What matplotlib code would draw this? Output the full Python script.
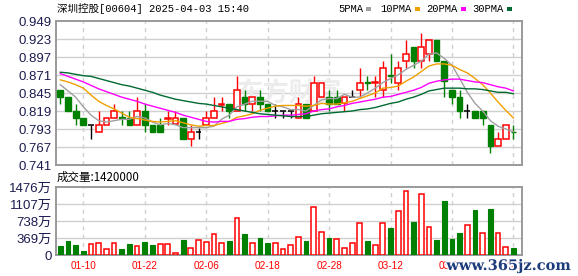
import matplotlib
matplotlib.use("Agg")
import matplotlib.pyplot as plt
from matplotlib.patches import Rectangle
import matplotlib.patheffects as pe

plt.rcParams['font.family'] = ['Noto Sans CJK SC', 'DejaVu Sans']

# ---------------- data ----------------
dates = ["01-07", "01-08", "01-09", "01-10", "01-13", "01-14", "01-15", "01-16", "01-17", "01-20",
         "01-21", "01-22", "01-23", "01-24", "01-27", "01-28", "02-03", "02-04", "02-05", "02-06",
         "02-07", "02-10", "02-11", "02-12", "02-13", "02-14", "02-17", "02-18", "02-19", "02-20",
         "02-21", "02-24", "02-25", "02-26", "02-27", "02-28", "03-03", "03-04", "03-05", "03-06",
         "03-07", "03-10", "03-11", "03-12", "03-13", "03-14", "03-17", "03-18", "03-19", "03-20",
         "03-21", "03-24", "03-25", "03-26", "03-27", "03-28", "03-31", "04-01", "04-02", "04-03"]

opens = [0.850, 0.839, 0.819, 0.809, 0.799, 0.789, 0.799, 0.809, 0.810, 0.809,
         0.799, 0.819, 0.799, 0.799, 0.807, 0.800, 0.809, 0.779, 0.789, 0.799,
         0.809, 0.828, 0.829, 0.819, 0.839, 0.829, 0.839, 0.829, 0.819, 0.819,
         0.819, 0.809, 0.829, 0.819, 0.839, 0.839, 0.839, 0.831, 0.839, 0.850,
         0.861, 0.860, 0.850, 0.871, 0.860, 0.891, 0.911, 0.891, 0.901, 0.921,
         0.891, 0.850, 0.839, 0.819, 0.819, 0.819, 0.799, 0.769, 0.779, 0.789]
highs = [0.850, 0.839, 0.829, 0.809, 0.799, 0.819, 0.809, 0.829, 0.819, 0.819,
         0.839, 0.829, 0.799, 0.809, 0.819, 0.819, 0.809, 0.799, 0.794, 0.819,
         0.839, 0.839, 0.829, 0.870, 0.850, 0.839, 0.850, 0.829, 0.829, 0.819,
         0.819, 0.839, 0.829, 0.870, 0.860, 0.850, 0.850, 0.839, 0.850, 0.881,
         0.870, 0.870, 0.891, 0.901, 0.891, 0.921, 0.911, 0.932, 0.921, 0.921,
         0.891, 0.850, 0.850, 0.829, 0.819, 0.819, 0.799, 0.789, 0.799, 0.799]
lows = [0.829, 0.819, 0.799, 0.799, 0.779, 0.789, 0.799, 0.809, 0.799, 0.799,
        0.799, 0.789, 0.789, 0.789, 0.799, 0.800, 0.779, 0.769, 0.779, 0.799,
        0.809, 0.819, 0.809, 0.819, 0.819, 0.819, 0.819, 0.819, 0.809, 0.809,
        0.809, 0.809, 0.809, 0.819, 0.839, 0.819, 0.829, 0.819, 0.839, 0.839,
        0.850, 0.839, 0.839, 0.860, 0.850, 0.881, 0.881, 0.881, 0.891, 0.891,
        0.839, 0.829, 0.809, 0.809, 0.809, 0.799, 0.759, 0.769, 0.779, 0.779]
closes = [0.839, 0.819, 0.809, 0.799, 0.799, 0.799, 0.809, 0.819, 0.809, 0.799,
          0.819, 0.799, 0.789, 0.789, 0.809, 0.809, 0.779, 0.789, 0.789, 0.809,
          0.819, 0.829, 0.819, 0.850, 0.829, 0.839, 0.829, 0.819, 0.819, 0.819,
          0.819, 0.829, 0.809, 0.860, 0.860, 0.829, 0.829, 0.839, 0.839, 0.860,
          0.859, 0.861, 0.881, 0.870, 0.881, 0.901, 0.891, 0.911, 0.921, 0.891,
          0.862, 0.839, 0.819, 0.819, 0.809, 0.809, 0.769, 0.779, 0.799, 0.788]
# volume in 万 (10k shares)
volumes = [201, 302, 216, 86, 231, 259, 130, 259, 130, 237,
           194, 281, 216, 244, 244, 43, 324, 144, 317, 274,
           447, 252, 302, 813, 453, 252, 367, 259, 252, 123,
           209, 388, 302, 1036, 490, 367, 345, 151, 252, 684,
           302, 216, 684, 590, 950, 1381, 712, 1316, 604, 324,
           1172, 345, 475, 647, 978, 475, 1000, 475, 173, 142]

ma5 = [0.857, 0.848, 0.839, 0.825, 0.813, 0.805, 0.803, 0.805, 0.807, 0.807,
       0.811, 0.809, 0.803, 0.799, 0.801, 0.799, 0.795, 0.795, 0.795, 0.795,
       0.797, 0.807, 0.813, 0.825, 0.829, 0.833, 0.833, 0.833, 0.827, 0.825,
       0.821, 0.821, 0.819, 0.827, 0.835, 0.837, 0.837, 0.843, 0.839, 0.839,
       0.845, 0.852, 0.860, 0.866, 0.871, 0.879, 0.885, 0.891, 0.901, 0.903,
       0.895, 0.885, 0.866, 0.846, 0.830, 0.819, 0.805, 0.797, 0.793, 0.789]
ma10 = [0.864, 0.861, 0.857, 0.852, 0.842, 0.833, 0.827, 0.822, 0.816, 0.810,
        0.808, 0.806, 0.804, 0.803, 0.804, 0.805, 0.802, 0.799, 0.797, 0.798,
        0.798, 0.801, 0.804, 0.810, 0.812, 0.815, 0.820, 0.823, 0.826, 0.827,
        0.827, 0.827, 0.826, 0.827, 0.830, 0.829, 0.829, 0.831, 0.833, 0.837,
        0.841, 0.845, 0.852, 0.853, 0.855, 0.862, 0.868, 0.876, 0.884, 0.887,
        0.887, 0.885, 0.879, 0.874, 0.866, 0.857, 0.845, 0.832, 0.820, 0.809]
ma20 = [0.873, 0.869, 0.865, 0.861, 0.856, 0.851, 0.847, 0.843, 0.839, 0.836,
        0.833, 0.829, 0.826, 0.823, 0.820, 0.817, 0.813, 0.810, 0.807, 0.804,
        0.803, 0.804, 0.804, 0.807, 0.808, 0.810, 0.811, 0.811, 0.812, 0.813,
        0.813, 0.814, 0.815, 0.819, 0.821, 0.822, 0.825, 0.827, 0.830, 0.832,
        0.834, 0.836, 0.839, 0.840, 0.843, 0.846, 0.849, 0.853, 0.859, 0.862,
        0.864, 0.865, 0.865, 0.863, 0.861, 0.860, 0.857, 0.854, 0.852, 0.848]
ma30 = [0.875, 0.874, 0.872, 0.870, 0.869, 0.866, 0.863, 0.860, 0.857, 0.855,
        0.852, 0.849, 0.846, 0.842, 0.839, 0.836, 0.834, 0.832, 0.830, 0.829,
        0.827, 0.825, 0.823, 0.821, 0.819, 0.817, 0.815, 0.814, 0.813, 0.812,
        0.811, 0.811, 0.811, 0.813, 0.815, 0.816, 0.817, 0.818, 0.819, 0.821,
        0.822, 0.824, 0.827, 0.830, 0.832, 0.836, 0.839, 0.843, 0.848, 0.850,
        0.852, 0.852, 0.852, 0.851, 0.851, 0.850, 0.848, 0.846, 0.846, 0.844]

price_ticks = [0.741, 0.767, 0.793, 0.819, 0.845, 0.871, 0.897, 0.923, 0.949]
vol_ticks = [0, 369, 738, 1107, 1476]
vol_tick_labels = ["0", "369万", "738万", "1107万", "1476万"]
ma_names = ["5PMA", "10PMA", "20PMA", "30PMA"]
title = "深圳控股[00604] 2025-04-03 15:40"
vol_title = "成交量:1420000"

# ---------------- style ----------------
W, H = 578, 276
RED = "#ff0000"
GREEN = "#008000"
MA_COLORS = ["#a0a0a0", "#f0a000", "#ff00ff", "#006a32"]
FRAME = "#9a9a9a"
GRID = "#d0d0d0"
LABEL = "#1c1c50"

fig = plt.figure(figsize=(W / 100, H / 100), dpi=100)
fig.patch.set_facecolor("white")


def fx(px):
    return px / W


def fy(py):
    return 1 - py / H


ax1 = fig.add_axes([fx(56), fy(165), 466 / W, 144 / H])
ax2 = fig.add_axes([fx(56), fy(255), 466 / W, 68 / H])
n = len(dates)
xs = list(range(n))
label_pos = list(range(3, n, 8))

for ax in (ax1, ax2):
    ax.set_xlim(-0.56, n + 0.12)
    for s in ax.spines.values():
        s.set_color(FRAME)
        s.set_linewidth(1.4)
    ax.set_facecolor("white")
    for p in label_pos:
        ax.axvline(p, color=GRID, lw=1.0, dashes=(3, 3), zorder=0)

# price panel
ax1.set_ylim(price_ticks[0], price_ticks[-1])
for t in price_ticks[1:-1]:
    ax1.axhline(t, color=GRID, lw=1.0, zorder=0)
ax1.set_yticks(price_ticks)
ax1.set_yticklabels([f"{t:.3f}" for t in price_ticks], family=["Liberation Sans", "DejaVu Sans"])
ax1.tick_params(axis="y", length=0, pad=3, labelsize=9.5, labelcolor=LABEL)
ax1.set_xticks([])

ax1.text(0.5, 0.5, "东方财富", transform=ax1.transAxes, ha="center", va="center",
         fontsize=19, color="#ececec", fontweight="bold", zorder=0.5)

bw = 0.74
for i in range(n):
    o, h, l, c = opens[i], highs[i], lows[i], closes[i]
    if c > o:
        ax1.vlines(i, c, h, color=RED, lw=1, zorder=2)
        ax1.vlines(i, l, o, color=RED, lw=1, zorder=2)
        ax1.add_patch(Rectangle((i - bw / 2, o), bw, c - o, facecolor="white",
                                edgecolor=RED, lw=1.1, zorder=3))
    elif c < o:
        ax1.vlines(i, l, h, color=GREEN, lw=1, zorder=2)
        ax1.add_patch(Rectangle((i - bw / 2, c), bw, o - c, facecolor=GREEN,
                                edgecolor=GREEN, lw=1.0, zorder=3))
    else:
        ax1.vlines(i, l, h, color="black", lw=1, zorder=2)
        ax1.hlines(o, i - bw / 2, i + bw / 2, color="black", lw=1.1, zorder=3)

for vals, col in zip([ma5, ma10, ma20, ma30], MA_COLORS):
    ax1.plot(xs, vals, color=col, lw=1.0, zorder=4)

# volume panel
ax2.set_ylim(0, vol_ticks[-1])
for t in vol_ticks[1:-1]:
    ax2.axhline(t, color=GRID, lw=1.0, zorder=0)
ax2.set_yticks(vol_ticks)
ax2.set_yticklabels(vol_tick_labels, family=["Liberation Sans", "Noto Sans CJK SC"])
ax2.tick_params(axis="y", length=0, pad=3, labelsize=9.5, labelcolor=LABEL)
ax2.set_xticks(label_pos)
ax2.set_xticklabels([dates[p] for p in label_pos], family=["Liberation Sans", "DejaVu Sans"])
ax2.tick_params(axis="x", length=0, pad=4, labelsize=7.2, labelcolor=RED)

vw = 0.62
for i in range(n):
    ref = closes[i - 1] if i > 0 else opens[i]
    if closes[i] >= ref:
        ax2.add_patch(Rectangle((i - vw / 2, 0), vw, volumes[i], facecolor="white",
                                edgecolor=RED, lw=1.1, zorder=3))
    else:
        ax2.add_patch(Rectangle((i - vw / 2, 0), vw, volumes[i], facecolor=GREEN,
                                edgecolor=GREEN, lw=0.8, zorder=3))

# texts
fig.text(fx(57), fy(9), title, ha="left", va="center", fontsize=7.6,
         family=["Liberation Mono", "Noto Sans CJK SC"], color="black")
fig.text(fx(57), fy(177), vol_title, ha="left", va="center", fontsize=8.3,
         family=["Noto Sans CJK SC", "DejaVu Sans"], color="black")

leg_x = [338, 380, 426, 472]
for name, col, x0 in zip(ma_names, MA_COLORS, leg_x):
    fig.text(fx(x0), fy(9), name, ha="left", va="center", fontsize=7.6,
             family=["Liberation Mono", "DejaVu Sans"], color="black")
    wpx = len(name) * 0.6 * 7.6 * 100 / 72
    fig.add_artist(Rectangle((fx(x0 + wpx + 3), fy(10.5)), 5 / W, 3.5 / H,
                             transform=fig.transFigure, facecolor=col, edgecolor="none"))

fig.text(fx(571), fy(266), "www.365jz.com", ha="right", va="center", fontsize=10.5,
         family=["DejaVu Serif"], fontweight="bold", color="#1d3c7c",
         path_effects=[pe.withStroke(linewidth=2.0, foreground="white")])

fig.savefig("out.png", dpi=100, facecolor="white")
